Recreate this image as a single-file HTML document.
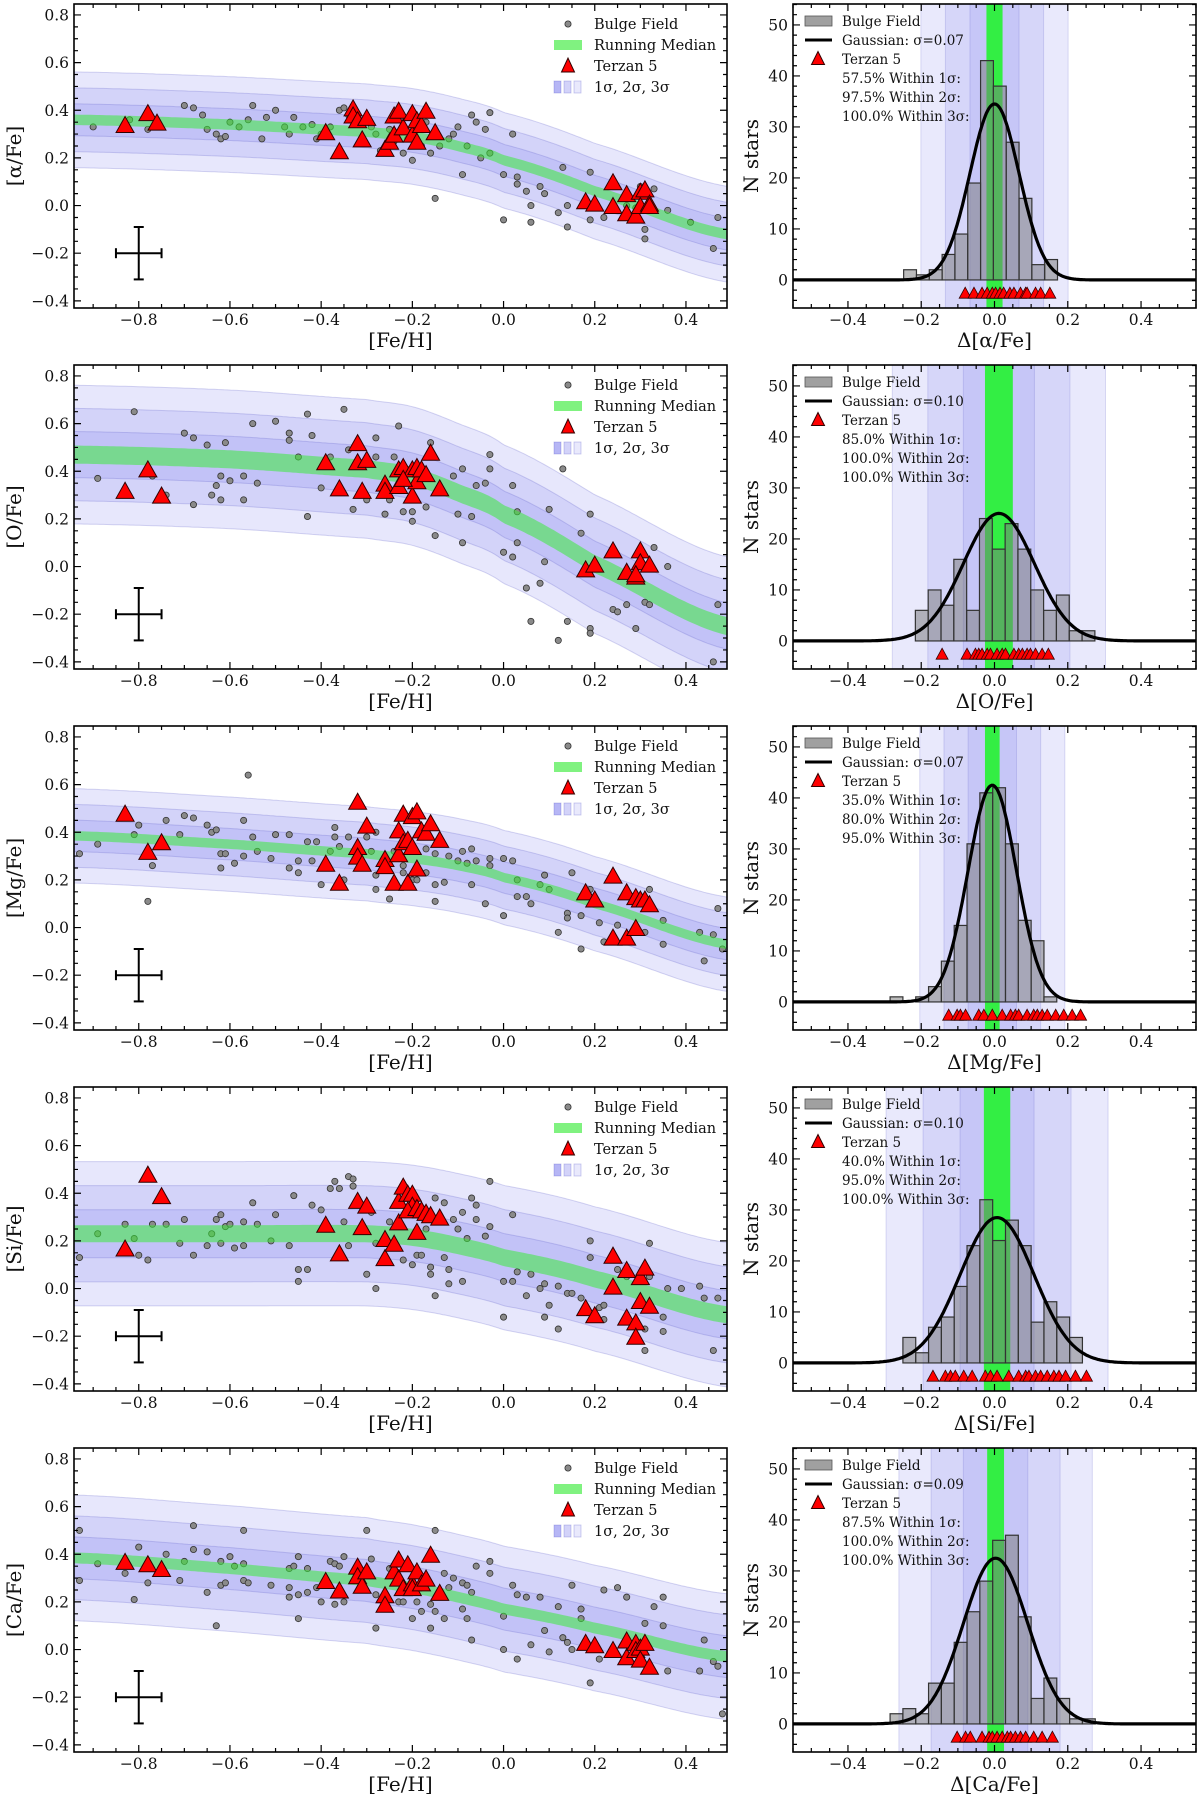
<!DOCTYPE html>
<html><head><meta charset="utf-8"><style>
html,body{margin:0;padding:0;background:#fff;}
svg{display:block;font-family:"DejaVu Serif","Liberation Serif",serif;}
</style></head><body>
<svg id="fig" width="1200" height="1799" viewBox="0 0 1200 1799" xmlns="http://www.w3.org/2000/svg"></svg>
<script>
// ---------- DATA ----------
const panelTops = [4,365,726,1087,1448];
const elemLabels = ["α","O","Mg","Si","Ca"];
const medNodeX = [-0.942,-0.6,-0.3,-0.2,-0.1,0.0,0.2,0.49];
const medAlpha = [0.36,0.34,0.31,0.29,0.25,0.19,0.06,-0.12];
const medO     = [0.47,0.45,0.41,0.38,0.31,0.22,0.01,-0.25];
const medMg    = [0.385,0.35,0.31,0.29,0.26,0.21,0.10,-0.07];
const medSi    = [0.23,0.23,0.23,0.215,0.18,0.13,0.04,-0.11];
const medCa    = [0.385,0.34,0.29,0.26,0.22,0.17,0.09,-0.03];
const sigmas   = [0.067,0.097,0.066,0.101,0.088];
const sigmaLabels = ["0.07","0.10","0.07","0.10","0.09"];
const greenHalf = [0.022,0.038,0.02,0.036,0.023];
const histMu   = [0.0,0.012,-0.006,0.007,0.003];
const gaussAmp = [34.5,25,42.5,28.5,32.5];
const within1  = ["57.5%","85.0%","35.0%","40.0%","87.5%"];
const within2  = ["97.5%","100.0%","80.0%","95.0%","100.0%"];
const within3  = ["100.0%","100.0%","95.0%","100.0%","100.0%"];
const binStart = [-0.248,-0.216,-0.285,-0.25,-0.285];
const binWidth = 0.035;
const countsAlpha = [2,1,2,5,9,19,43,38,27,16,3,4];
const countsO  = [6,10,7,16,6,24,18,23,18,10,6,9,2,2];
const countsMg = [1,0,1,3,8,15,31,41,42,31,16,12,1];
const countsSi = [5,2,7,9,15,23,32,24,28,23,8,12,9,5];
const countsCa = [2,3,2,8,8,16,22,28,36,37,21,5,9,5,1,1];
const terDevAlpha = [-0.08,-0.056,-0.034,-0.02,-0.006,0.003,0.015,0.025,0.042,0.053,0.071,0.085,0.089,0.112,0.126,0.151];
const terDevO  = [-0.143,-0.075,-0.052,-0.043,-0.034,-0.02,-0.011,0.007,0.021,0.03,0.053,0.066,0.076,0.089,0.098,0.112,0.13,0.147];
const terDevMg = [-0.125,-0.102,-0.093,-0.079,-0.043,-0.029,-0.006,0.021,0.044,0.057,0.066,0.089,0.107,0.117,0.13,0.144,0.167,0.189,0.212,0.235];
const terDevSi = [-0.168,-0.134,-0.12,-0.107,-0.084,-0.061,-0.025,-0.011,0.007,0.039,0.066,0.085,0.094,0.112,0.126,0.144,0.162,0.176,0.194,0.221,0.251];
const terDevCa = [-0.102,-0.079,-0.066,-0.034,-0.015,-0.006,0.007,0.021,0.035,0.044,0.057,0.071,0.085,0.107,0.13,0.158];

const fieldAlphaFe = [-0.9,-0.82,-0.78,-0.7,-0.68,-0.66,-0.65,-0.63,-0.62,-0.61,-0.6,-0.58,-0.56,-0.55,-0.53,-0.52,-0.5,-0.48,-0.47,-0.46,-0.44,-0.42,-0.41,-0.4,-0.38,-0.36,-0.35,-0.34,-0.33,-0.33,-0.32,-0.3,-0.29,-0.28,-0.27,-0.25,-0.24,-0.22,-0.21,-0.2,-0.19,-0.18,-0.17,-0.16,-0.15,-0.14,-0.12,-0.11,-0.1,-0.09,-0.08,-0.07,-0.06,-0.05,-0.04,-0.03,-0.03,0.0,0.0,0.02,0.03,0.03,0.05,0.06,0.06,0.08,0.09,0.12,0.13,0.14,0.14,0.19,0.19,0.22,0.27,0.29,0.3,0.31,0.31,0.33,0.36,0.41,0.46,0.47];
const fieldAlphaX  = [0.33,0.36,0.32,0.42,0.41,0.38,0.32,0.3,0.28,0.29,0.35,0.33,0.36,0.42,0.28,0.37,0.4,0.33,0.3,0.37,0.33,0.34,0.28,0.3,0.33,0.4,0.41,0.38,0.4,0.37,0.35,0.36,0.33,0.3,0.23,0.32,0.27,0.22,0.28,0.19,0.25,0.25,0.35,0.22,0.03,0.25,0.28,0.3,0.33,0.13,0.25,0.38,0.35,0.2,0.32,0.22,0.39,-0.06,0.13,0.3,0.12,0.09,0.06,0.0,-0.07,0.08,0.05,-0.03,0.16,0.0,-0.09,0.14,-0.06,-0.05,0.0,-0.01,0.08,-0.1,-0.14,0.07,-0.02,-0.07,-0.18,-0.05];
const fieldOFe = [-0.89,-0.81,-0.77,-0.74,-0.7,-0.68,-0.68,-0.65,-0.64,-0.63,-0.62,-0.62,-0.61,-0.6,-0.57,-0.57,-0.55,-0.54,-0.5,-0.47,-0.47,-0.45,-0.43,-0.43,-0.42,-0.4,-0.38,-0.35,-0.34,-0.33,-0.3,-0.28,-0.28,-0.26,-0.25,-0.24,-0.23,-0.22,-0.2,-0.2,-0.17,-0.16,-0.15,-0.11,-0.1,-0.09,-0.09,-0.07,-0.06,-0.03,-0.03,-0.04,0.0,0.02,0.02,0.03,0.03,0.05,0.06,0.08,0.09,0.1,0.12,0.13,0.14,0.17,0.19,0.19,0.19,0.24,0.25,0.27,0.29,0.31,0.32,0.33,0.36,0.47,0.46];
const fieldOX  = [0.37,0.65,0.38,0.30,0.56,0.54,0.26,0.51,0.30,0.34,0.38,0.28,0.52,0.36,0.38,0.28,0.60,0.35,0.61,0.53,0.56,0.46,0.64,0.21,0.55,0.33,0.46,0.66,0.49,0.24,0.28,0.54,0.46,0.22,0.28,0.46,0.59,0.23,0.23,0.19,0.25,0.52,0.13,0.38,0.22,0.41,0.10,0.21,0.34,0.47,0.41,0.35,0.06,0.34,0.04,0.23,0.10,-0.09,-0.23,-0.07,0.02,0.24,-0.31,0.41,-0.23,0.14,0.22,-0.26,-0.28,-0.18,-0.19,-0.16,-0.26,-0.15,-0.16,0.08,0.0,-0.16,-0.40];
const fieldMgFe = [-0.93,-0.89,-0.81,-0.8,-0.78,-0.77,-0.74,-0.71,-0.7,-0.68,-0.65,-0.64,-0.63,-0.62,-0.62,-0.61,-0.59,-0.57,-0.57,-0.56,-0.55,-0.54,-0.51,-0.5,-0.47,-0.47,-0.45,-0.45,-0.43,-0.42,-0.41,-0.4,-0.38,-0.37,-0.37,-0.36,-0.35,-0.34,-0.3,-0.29,-0.28,-0.28,-0.28,-0.25,-0.24,-0.22,-0.22,-0.2,-0.19,-0.17,-0.17,-0.15,-0.15,-0.15,-0.13,-0.12,-0.1,-0.09,-0.08,-0.07,-0.07,-0.06,-0.04,-0.03,-0.03,0.0,0.0,0.02,0.03,0.03,0.05,0.06,0.08,0.09,0.1,0.12,0.14,0.14,0.15,0.17,0.17,0.19,0.21,0.22,0.25,0.31,0.32,0.35,0.35,0.43,0.44,0.46,0.47,0.48];
const fieldMgX  = [0.31,0.35,0.39,0.43,0.11,0.26,0.45,0.39,0.47,0.46,0.43,0.40,0.41,0.31,0.25,0.31,0.27,0.45,0.30,0.64,0.38,0.32,0.29,0.39,0.39,0.25,0.28,0.23,0.36,0.28,0.36,0.18,0.32,0.42,0.38,0.34,0.20,0.38,0.38,0.32,0.40,0.22,0.16,0.12,0.32,0.26,0.23,0.20,0.20,0.33,0.23,0.31,0.18,0.11,0.19,0.30,0.28,0.32,0.27,0.33,0.18,0.28,0.10,0.29,0.26,0.29,0.05,0.28,0.20,0.13,0.13,0.10,0.18,0.22,0.16,-0.02,0.06,0.04,0.23,0.05,-0.09,0.16,0.02,-0.06,0.01,-0.02,0.16,0.03,-0.07,-0.02,-0.14,-0.03,0.08,-0.09];
const fieldSiFe = [-0.93,-0.89,-0.83,-0.81,-0.8,-0.78,-0.77,-0.74,-0.71,-0.7,-0.68,-0.65,-0.64,-0.63,-0.62,-0.62,-0.61,-0.6,-0.59,-0.57,-0.57,-0.55,-0.54,-0.51,-0.5,-0.47,-0.46,-0.45,-0.45,-0.43,-0.42,-0.4,-0.38,-0.37,-0.36,-0.35,-0.34,-0.33,-0.33,-0.34,-0.3,-0.29,-0.28,-0.28,-0.25,-0.22,-0.2,-0.19,-0.18,-0.17,-0.16,-0.16,-0.15,-0.15,-0.13,-0.13,-0.12,-0.12,-0.11,-0.1,-0.09,-0.09,-0.08,-0.07,-0.06,-0.06,-0.04,-0.03,-0.03,0.0,0.0,0.02,0.02,0.03,0.05,0.06,0.08,0.09,0.09,0.1,0.12,0.12,0.14,0.15,0.17,0.19,0.19,0.21,0.22,0.22,0.25,0.27,0.31,0.31,0.32,0.32,0.35,0.35,0.36,0.39,0.43,0.44,0.46,0.47];
const fieldSiX  = [0.13,0.23,0.27,0.21,0.14,0.12,0.27,0.27,0.19,0.29,0.14,0.18,0.23,0.29,0.31,0.19,0.26,0.27,0.17,0.28,0.18,0.36,0.27,0.20,0.31,0.18,0.39,0.08,0.03,0.08,0.35,0.33,0.42,0.45,0.42,0.28,0.47,0.46,0.43,0.18,0.06,0.32,0.0,0.19,0.28,0.12,0.10,0.14,0.14,0.25,0.09,0.06,0.38,-0.03,0.36,0.13,0.08,0.02,0.29,0.25,0.32,0.03,0.21,0.38,0.35,0.29,0.22,0.45,0.26,0.03,-0.12,0.31,0.03,0.07,-0.03,0.06,0.0,0.02,-0.12,-0.07,0.01,-0.17,-0.02,-0.02,-0.04,0.20,0.13,-0.08,-0.07,-0.13,0.08,0.05,-0.17,-0.26,0.19,0.05,-0.12,-0.18,0.0,0.0,0.01,-0.04,-0.26,-0.04];
const fieldCaFe = [-0.93,-0.93,-0.89,-0.83,-0.81,-0.8,-0.78,-0.74,-0.71,-0.7,-0.68,-0.68,-0.65,-0.65,-0.63,-0.62,-0.62,-0.61,-0.6,-0.59,-0.57,-0.57,-0.57,-0.56,-0.51,-0.47,-0.47,-0.47,-0.46,-0.45,-0.45,-0.45,-0.43,-0.43,-0.41,-0.4,-0.38,-0.37,-0.37,-0.36,-0.35,-0.35,-0.3,-0.29,-0.28,-0.28,-0.25,-0.23,-0.22,-0.2,-0.19,-0.18,-0.16,-0.16,-0.15,-0.15,-0.13,-0.13,-0.12,-0.11,-0.09,-0.09,-0.08,-0.08,-0.07,-0.07,-0.06,-0.03,-0.03,0.0,0.0,0.02,0.03,0.03,0.05,0.06,0.08,0.09,0.1,0.12,0.13,0.14,0.15,0.15,0.17,0.17,0.19,0.21,0.22,0.25,0.27,0.31,0.33,0.35,0.35,0.36,0.43,0.44,0.46,0.47,0.48];
const fieldCaX  = [0.50,0.29,0.36,0.32,0.21,0.43,0.28,0.40,0.29,0.37,0.52,0.42,0.41,0.24,0.10,0.37,0.27,0.28,0.39,0.35,0.50,0.36,0.29,0.28,0.27,0.34,0.26,0.22,0.35,0.39,0.23,0.13,0.34,0.24,0.26,0.20,0.37,0.36,0.19,0.35,0.39,0.20,0.50,0.38,0.09,0.23,0.34,0.20,0.20,0.13,0.20,0.16,0.19,0.09,0.50,0.16,0.32,0.13,0.26,0.30,0.28,0.17,0.27,0.13,0.24,0.04,0.35,0.37,0.32,0.14,0.0,0.27,0.23,-0.04,0.22,0.02,0.22,0.08,-0.01,0.18,0.05,0.03,0.27,0.0,0.17,0.13,-0.14,-0.04,0.25,0.26,0.22,0.11,0.18,0.22,0.10,-0.09,-0.09,0.04,-0.05,-0.07,-0.27];

const terAlphaFe = [-0.83,-0.78,-0.76,-0.39,-0.36,-0.33,-0.33,-0.32,-0.31,-0.3,-0.26,-0.25,-0.24,-0.24,-0.23,-0.22,-0.2,-0.2,-0.19,-0.19,-0.18,-0.17,-0.15,0.18,0.2,0.24,0.24,0.27,0.27,0.29,0.3,0.3,0.31,0.32,0.32];
const terAlphaX  = [0.34,0.39,0.35,0.31,0.23,0.41,0.38,0.36,0.28,0.37,0.24,0.27,0.3,0.38,0.4,0.33,0.39,0.3,0.27,0.36,0.34,0.4,0.31,0.02,0.01,0.1,0.0,0.05,-0.03,-0.04,0.06,0.0,0.07,0.01,0.0];
const terOFe = [-0.83,-0.78,-0.75,-0.39,-0.36,-0.32,-0.32,-0.3,-0.31,-0.26,-0.26,-0.23,-0.23,-0.22,-0.2,-0.2,-0.19,-0.19,-0.18,-0.17,-0.16,-0.14,-0.22,0.18,0.2,0.24,0.27,0.29,0.3,0.3,0.32,0.29];
const terOX  = [0.32,0.41,0.30,0.44,0.33,0.52,0.44,0.45,0.32,0.35,0.32,0.34,0.41,0.42,0.30,0.41,0.42,0.36,0.41,0.39,0.48,0.33,0.37,-0.01,0.01,0.07,-0.02,-0.04,0.07,0.02,0.01,-0.03];
const terMgFe = [-0.83,-0.78,-0.75,-0.39,-0.36,-0.32,-0.32,-0.32,-0.31,-0.3,-0.26,-0.26,-0.24,-0.23,-0.23,-0.22,-0.22,-0.21,-0.21,-0.2,-0.2,-0.19,-0.19,-0.18,-0.17,-0.16,-0.14,0.18,0.2,0.24,0.24,0.27,0.27,0.29,0.29,0.3,0.31,0.32];
const terMgX  = [0.48,0.32,0.36,0.27,0.19,0.53,0.34,0.30,0.27,0.43,0.29,0.26,0.19,0.41,0.31,0.48,0.36,0.37,0.19,0.47,0.34,0.49,0.25,0.41,0.40,0.44,0.37,0.15,0.12,0.22,-0.04,0.15,-0.04,0.0,0.13,0.12,0.12,0.10];
const terSiFe = [-0.83,-0.78,-0.75,-0.39,-0.36,-0.32,-0.31,-0.3,-0.26,-0.26,-0.24,-0.23,-0.23,-0.22,-0.21,-0.2,-0.2,-0.21,-0.19,-0.19,-0.18,-0.17,-0.16,-0.14,0.18,0.2,0.24,0.24,0.27,0.27,0.29,0.29,0.3,0.3,0.31,0.32];
const terSiX  = [0.17,0.48,0.39,0.27,0.15,0.37,0.26,0.35,0.21,0.13,0.19,0.37,0.28,0.43,0.40,0.40,0.35,0.33,0.24,0.34,0.33,0.32,0.31,0.30,-0.08,-0.11,0.14,0.01,0.08,-0.12,-0.14,-0.20,0.05,-0.05,0.09,-0.07];
const terCaFe = [-0.83,-0.78,-0.75,-0.39,-0.36,-0.32,-0.32,-0.31,-0.3,-0.26,-0.26,-0.24,-0.23,-0.23,-0.22,-0.21,-0.2,-0.2,-0.19,-0.18,-0.17,-0.16,-0.14,0.18,0.2,0.24,0.27,0.27,0.29,0.29,0.3,0.3,0.31,0.32];
const terCaX  = [0.37,0.36,0.34,0.29,0.25,0.35,0.31,0.27,0.33,0.23,0.19,0.33,0.38,0.30,0.26,0.36,0.28,0.26,0.33,0.28,0.30,0.40,0.24,0.03,0.02,0.0,0.04,-0.03,0.03,0.0,0.01,-0.04,0.03,-0.07];

const medians = [medAlpha,medO,medMg,medSi,medCa];
const histCounts = [countsAlpha,countsO,countsMg,countsSi,countsCa];
const terDevs = [terDevAlpha,terDevO,terDevMg,terDevSi,terDevCa];
const fieldXs = [fieldAlphaFe,fieldOFe,fieldMgFe,fieldSiFe,fieldCaFe];
const fieldYs = [fieldAlphaX,fieldOX,fieldMgX,fieldSiX,fieldCaX];
const terXs = [terAlphaFe,terOFe,terMgFe,terSiFe,terCaFe];
const terYs = [terAlphaX,terOX,terMgX,terSiX,terCaX];
const scatterXTicks = [-0.8,-0.6,-0.4,-0.2,0.0,0.2,0.4];
const scatterYTicks = [-0.4,-0.2,0.0,0.2,0.4,0.6,0.8];
const histXTicks = [-0.4,-0.2,0.0,0.2,0.4];
const histYTicks = [0,10,20,30,40,50];

// ---------- RENDER ----------
const NS = "http://www.w3.org/2000/svg";
const svg = document.getElementById('fig');
function mk(tag, attrs, parent){
  const e = document.createElementNS(NS, tag);
  for (const k in attrs) e.setAttribute(k, attrs[k]);
  (parent||svg).appendChild(e);
  return e;
}
const SX0=74, SX1=727, SD0=-0.942, SD1=0.49, SV0=0.846, SV1=-0.43, AH=304;
const HX0=793, HX1=1196, HD0=-0.55, HD1=0.55, HV0=54.1, HV1=-5.5;
function sx(v){return SX0+(v-SD0)/(SD1-SD0)*(SX1-SX0);}
function sy(v,t){return t+(SV0-v)/(SV0-SV1)*AH;}
function hx(v){return HX0+(v-HD0)/(HD1-HD0)*(HX1-HX0);}
function hy(v,t){return t+(HV0-v)/(HV0-HV1)*AH;}
function fmt(v){const s=Math.abs(v)<1e-9?"0.0":v.toFixed(1);return s.replace('-','\u2212');}
function medAt(med, x){
  const n=medNodeX.length;
  let i=0; while(i<n-2 && x>medNodeX[i+1]) i++;
  const x0=medNodeX[i], x1=medNodeX[i+1];
  const t=Math.max(0,Math.min(1,(x-x0)/(x1-x0)));
  const p0=med[Math.max(0,i-1)], p1=med[i], p2=med[i+1], p3=med[Math.min(n-1,i+2)];
  const t2=t*t,t3=t2*t;
  return 0.5*((2*p1)+(-p0+p2)*t+(2*p0-5*p1+4*p2-p3)*t2+(-p0+3*p1-3*p2+p3)*t3);
}
function bandPath(med, lo, hi, t){
  const xs=[]; for(let i=0;i<=200;i++) xs.push(SD0+(SD1-SD0)*i/200);
  let d="M"+xs.map(x=>sx(x).toFixed(1)+","+sy(medAt(med,x)+hi,t).toFixed(1)).join(" L");
  d+=" L"+xs.slice().reverse().map(x=>sx(x).toFixed(1)+","+sy(medAt(med,x)+lo,t).toFixed(1)).join(" L")+" Z";
  return d;
}
function tri(cx,cy,w,h){return `${cx-w/2},${cy+h/2} ${cx+w/2},${cy+h/2} ${cx},${cy-h/2}`;}

for (let p=0;p<5;p++){
  const t = panelTops[p];
  const med = medians[p], sg = sigmas[p];
  const g = mk('g',{});
  
  
  const cid='clipS'+p;
  const cp=mk('clipPath',{id:cid},g); mk('rect',{x:SX0,y:t,width:SX1-SX0,height:AH},cp);
  const inner=mk('g',{'clip-path':`url(#${cid})`},g);
  for (const k of [3,2,1]){
    const b=mk('path',{d:bandPath(med,-k*sg,k*sg,t),fill:'rgba(110,110,235,0.17)',stroke:'rgba(90,90,200,0.25)','stroke-width':1},inner);
    
    
  }
  const fx=fieldXs[p], fy=fieldYs[p];
  for (let i=0;i<fx.length;i++){
    const c=mk('circle',{cx:sx(fx[i]),cy:sy(fy[i],t),r:3.1,fill:'#8a8a8a',stroke:'#333','stroke-width':0.8},inner);
    
    
  }
  const gm=mk('path',{d:bandPath(med,-greenHalf[p],greenHalf[p],t),fill:'rgba(60,235,60,0.55)',stroke:'none'},inner);
  
  
  const tx=terXs[p], ty=terYs[p];
  for (let i=0;i<tx.length;i++){
    const tr=mk('polygon',{points:tri(sx(tx[i]),sy(ty[i],t),18,16),fill:'#f00',stroke:'#300','stroke-width':1},inner);
    
    
  }
  const ec=mk('g',{stroke:'#000','stroke-width':2,fill:'none'},g);
  
  
  const ex=sx(-0.8), ey=sy(-0.2,t), ew=sx(-0.75)-sx(-0.8), eh=sy(-0.2,t)-sy(-0.09,t);
  mk('line',{x1:ex-ew,y1:ey,x2:ex+ew,y2:ey},ec);
  mk('line',{x1:ex,y1:ey-eh,x2:ex,y2:ey+eh},ec);
  mk('line',{x1:ex-ew,y1:ey-5,x2:ex-ew,y2:ey+5},ec);
  mk('line',{x1:ex+ew,y1:ey-5,x2:ex+ew,y2:ey+5},ec);
  mk('line',{x1:ex-5,y1:ey-eh,x2:ex+5,y2:ey-eh},ec);
  mk('line',{x1:ex-5,y1:ey+eh,x2:ex+5,y2:ey+eh},ec);
  const fr=mk('rect',{x:SX0,y:t,width:SX1-SX0,height:AH,fill:'none',stroke:'#000','stroke-width':1.6},g);
  
  
  let td="";
  for (let v=-0.9; v<=0.4901; v+=0.05){
    const x=sx(v); const major=Math.abs(Math.round(v*5)-v*5)<1e-6; const L=major?7:4;
    td+=`M${x},${t+AH}v${-L}M${x},${t}v${L}`;
  }
  for (let v=-0.4; v<=0.8401; v+=0.05){
    const y=sy(v,t); const major=Math.abs(Math.round(v*5)-v*5)<1e-6; const L=major?7:4;
    td+=`M${SX0},${y}h${L}M${SX1},${y}h${-L}`;
  }
  mk('path',{d:td,stroke:'#000','stroke-width':1.2,fill:'none'},g);
  for (const v of scatterXTicks){
    const l=mk('text',{x:sx(v),y:t+AH+17,'text-anchor':'middle','font-size':15.5,fill:'#111'},g); l.textContent=fmt(v);
    
    
  }
  for (const v of scatterYTicks){
    const l=mk('text',{x:SX0-5,y:sy(v,t)+5.5,'text-anchor':'end','font-size':15.5,fill:'#111'},g); l.textContent=fmt(v);
    
    
  }
  const xl=mk('text',{x:(SX0+SX1)/2,y:t+AH+39,'text-anchor':'middle','font-size':20,fill:'#111'},g); xl.textContent='[Fe/H]';
  
  
  const yl=mk('text',{x:0,y:0,'text-anchor':'middle','font-size':20,fill:'#111',transform:`translate(21,${t+AH/2}) rotate(-90)`},g); yl.textContent='['+elemLabels[p]+'/Fe]';
  
  
  const lg=mk('g',{'font-size':14.5,fill:'#111'},g);
  
  
  const lx=568, rows=[t+20,t+41,t+62,t+83];
  mk('circle',{cx:lx,cy:rows[0],r:3.1,fill:'#8a8a8a',stroke:'#333','stroke-width':0.8},lg);
  mk('rect',{x:lx-14,y:rows[1]-5,width:28,height:10,fill:'rgba(60,235,60,0.65)'},lg);
  mk('polygon',{points:tri(lx,rows[2]-1,13,14),fill:'#f00',stroke:'#300','stroke-width':1},lg);
  const bcols=['rgba(110,110,235,0.5)','rgba(110,110,235,0.3)','rgba(110,110,235,0.15)'];
  for (let k=0;k<3;k++) mk('rect',{x:lx-14+k*10,y:rows[3]-6,width:7,height:12,fill:bcols[k],stroke:'rgba(90,90,200,0.35)','stroke-width':0.8},lg);
  const ltxt=['Bulge Field','Running Median','Terzan 5','1σ, 2σ, 3σ'];
  for (let k=0;k<4;k++){const e=mk('text',{x:594,y:rows[k]+5},lg); e.textContent=ltxt[k];
    
    }

  // ---------- Histogram ----------
  const hg=mk('g',{});
  
  
  const hcid='clipH'+p;
  const hcp=mk('clipPath',{id:hcid},hg); mk('rect',{x:HX0,y:t,width:HX1-HX0,height:AH},hcp);
  const hin=mk('g',{'clip-path':`url(#${hcid})`},hg);
  const mu=histMu[p];
  for (const k of [3,2,1]){
    const r=mk('rect',{x:hx(mu-k*sg),y:t,width:hx(mu+k*sg)-hx(mu-k*sg),height:AH,fill:'rgba(110,110,235,0.15)',stroke:'rgba(90,90,200,0.2)','stroke-width':1},hin);
    
    
  }
  const gr=mk('rect',{x:hx(mu-greenHalf[p]),y:t,width:hx(mu+greenHalf[p])-hx(mu-greenHalf[p]),height:AH,fill:'#33ee44'},hin);
  
  
  const cnt=histCounts[p];
  for (let i=0;i<cnt.length;i++){
    if (cnt[i]<=0) continue;
    const b0=binStart[p]+i*binWidth, b1=b0+binWidth;
    const r=mk('rect',{x:hx(b0),y:hy(cnt[i],t),width:hx(b1)-hx(b0),height:hy(0,t)-hy(cnt[i],t),fill:'rgba(120,120,120,0.5)',stroke:'#333','stroke-width':1.2},hin);
    
    
  }
  let gd=""; for (let i=0;i<=300;i++){const x=HD0+(HD1-HD0)*i/300; const yv=gaussAmp[p]*Math.exp(-0.5*Math.pow((x-mu)/sg,2)); gd+=(i?"L":"M")+hx(x).toFixed(1)+","+hy(yv,t).toFixed(1);}
  const gc=mk('path',{d:gd,stroke:'#000','stroke-width':3.2,fill:'none'},hin);
  
  
  const dv=terDevs[p];
  for (let i=0;i<dv.length;i++){
    const tr=mk('polygon',{points:tri(hx(dv[i]),hy(-2.5,t),12,11),fill:'#f00',stroke:'#300','stroke-width':0.8},hin);
    
    
  }
  const hf=mk('rect',{x:HX0,y:t,width:HX1-HX0,height:AH,fill:'none',stroke:'#000','stroke-width':1.6},hg);
  
  
  let hd="";
  for (let v=-0.55; v<=0.5501; v+=0.05){
    const x=hx(v); const major=Math.abs(Math.round(v*5)-v*5)<1e-6; const L=major?7:4;
    hd+=`M${x},${t+AH}v${-L}M${x},${t}v${L}`;
  }
  for (let v=-4; v<=54; v+=2){
    const y=hy(v,t); const major=v%10===0; const L=major?7:4;
    hd+=`M${HX0},${y}h${L}M${HX1},${y}h${-L}`;
  }
  mk('path',{d:hd,stroke:'#000','stroke-width':1.2,fill:'none'},hg);
  for (const v of histXTicks){
    const l=mk('text',{x:hx(v),y:t+AH+17,'text-anchor':'middle','font-size':15.5,fill:'#111'},hg); l.textContent=fmt(v);
    
    
  }
  for (const v of histYTicks){
    const l=mk('text',{x:HX0-5,y:hy(v,t)+5.5,'text-anchor':'end','font-size':15.5,fill:'#111'},hg); l.textContent=String(v);
    
    
  }
  const hxl=mk('text',{x:(HX0+HX1)/2,y:t+AH+39,'text-anchor':'middle','font-size':20,fill:'#111'},hg); hxl.textContent='Δ['+elemLabels[p]+'/Fe]';
  
  
  const hyl=mk('text',{x:0,y:0,'text-anchor':'middle','font-size':20,fill:'#111',transform:`translate(758,${t+AH/2}) rotate(-90)`},hg); hyl.textContent='N stars';
  
  
  const hl=mk('g',{'font-size':13.5,fill:'#111'},hg);
  
  
  const hr=[t+17,t+36,t+55,t+74,t+93,t+112];
  mk('rect',{x:805,y:hr[0]-5,width:27,height:10,fill:'rgba(120,120,120,0.7)',stroke:'#555','stroke-width':0.8},hl);
  mk('line',{x1:805,y1:hr[1],x2:832,y2:hr[1],stroke:'#000','stroke-width':3},hl);
  mk('polygon',{points:tri(818,hr[2]-1,13,13),fill:'#f00',stroke:'#300','stroke-width':1},hl);
  const htxt=['Bulge Field','Gaussian: σ='+sigmaLabels[p],'Terzan 5',within1[p]+' Within 1σ:',within2[p]+' Within 2σ:',within3[p]+' Within 3σ:'];
  for (let k=0;k<6;k++){const e=mk('text',{x:842,y:hr[k]+5},hl); e.textContent=htxt[k];
    
    }
}
</script>
</body></html>
